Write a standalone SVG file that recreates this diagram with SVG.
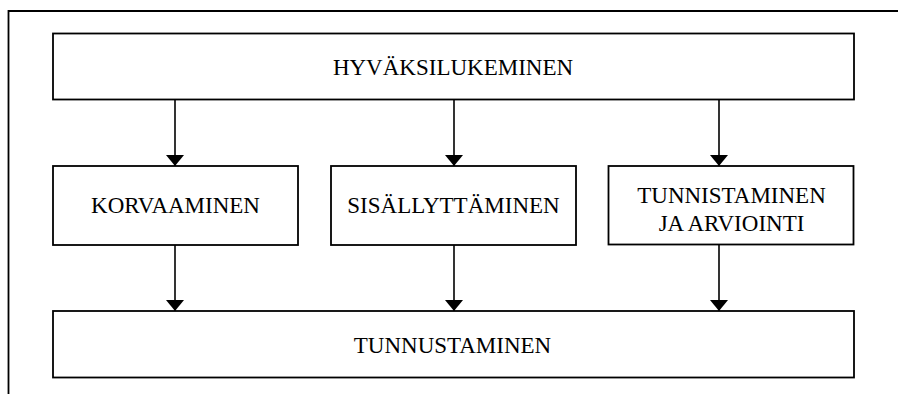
<svg xmlns="http://www.w3.org/2000/svg" width="898" height="394" viewBox="0 0 898 394">
  <style>
    .box { fill: #ffffff; stroke: #000000; stroke-width: 1.8; }
    .frame { fill: none; stroke: #000000; stroke-width: 1.8; }
    .edge { fill: none; stroke: #000000; stroke-width: 1.6; }
    .label { font-family: "Liberation Serif", "Times New Roman", serif; font-size: 23px; fill: #000000; text-anchor: middle; }
  </style>
  <defs>
    <marker id="arrow" markerUnits="userSpaceOnUse" markerWidth="12" markerHeight="18" refX="11" refY="9" orient="auto">
      <path d="M0,0 L11,9 L0,18 Z" fill="#000000"/>
    </marker>
  </defs>
  <rect width="898" height="394" fill="#ffffff"/>

  <!-- page frame: top and left rules -->
  <path class="frame" d="M898,11 H8.5 V394"/>

  <!-- connectors -->
  <g id="connectors">
    <line class="edge" x1="175" y1="99.5" x2="175" y2="166" marker-end="url(#arrow)"/>
    <line class="edge" x1="454" y1="99.5" x2="454" y2="166" marker-end="url(#arrow)"/>
    <line class="edge" x1="719" y1="99.5" x2="719" y2="166" marker-end="url(#arrow)"/>
    <line class="edge" x1="175" y1="245" x2="175" y2="311" marker-end="url(#arrow)"/>
    <line class="edge" x1="454" y1="245" x2="454" y2="311" marker-end="url(#arrow)"/>
    <line class="edge" x1="719" y1="245" x2="719" y2="311" marker-end="url(#arrow)"/>
  </g>

  <g id="hyvaksilukeminen">
    <rect class="box" x="53" y="33.5" width="801" height="66"/>
    <text class="label" x="453" y="75">HYVÄKSILUKEMINEN</text>
  </g>

  <g id="korvaaminen">
    <rect class="box" x="53" y="166" width="245" height="79"/>
    <text class="label" x="175.5" y="213">KORVAAMINEN</text>
  </g>

  <g id="sisallyttaminen">
    <rect class="box" x="331" y="166" width="245" height="79"/>
    <text class="label" x="453.5" y="213">SISÄLLYTTÄMINEN</text>
  </g>

  <g id="tunnistaminen">
    <rect class="box" x="608.5" y="166" width="245" height="78.5"/>
    <text class="label" x="731.5" y="202.5">TUNNISTAMINEN</text>
    <text class="label" x="731.5" y="230.5">JA ARVIOINTI</text>
  </g>

  <g id="tunnustaminen">
    <rect class="box" x="53" y="311" width="801" height="66.5"/>
    <text class="label" x="452.5" y="352.5">TUNNUSTAMINEN</text>
  </g>
</svg>
